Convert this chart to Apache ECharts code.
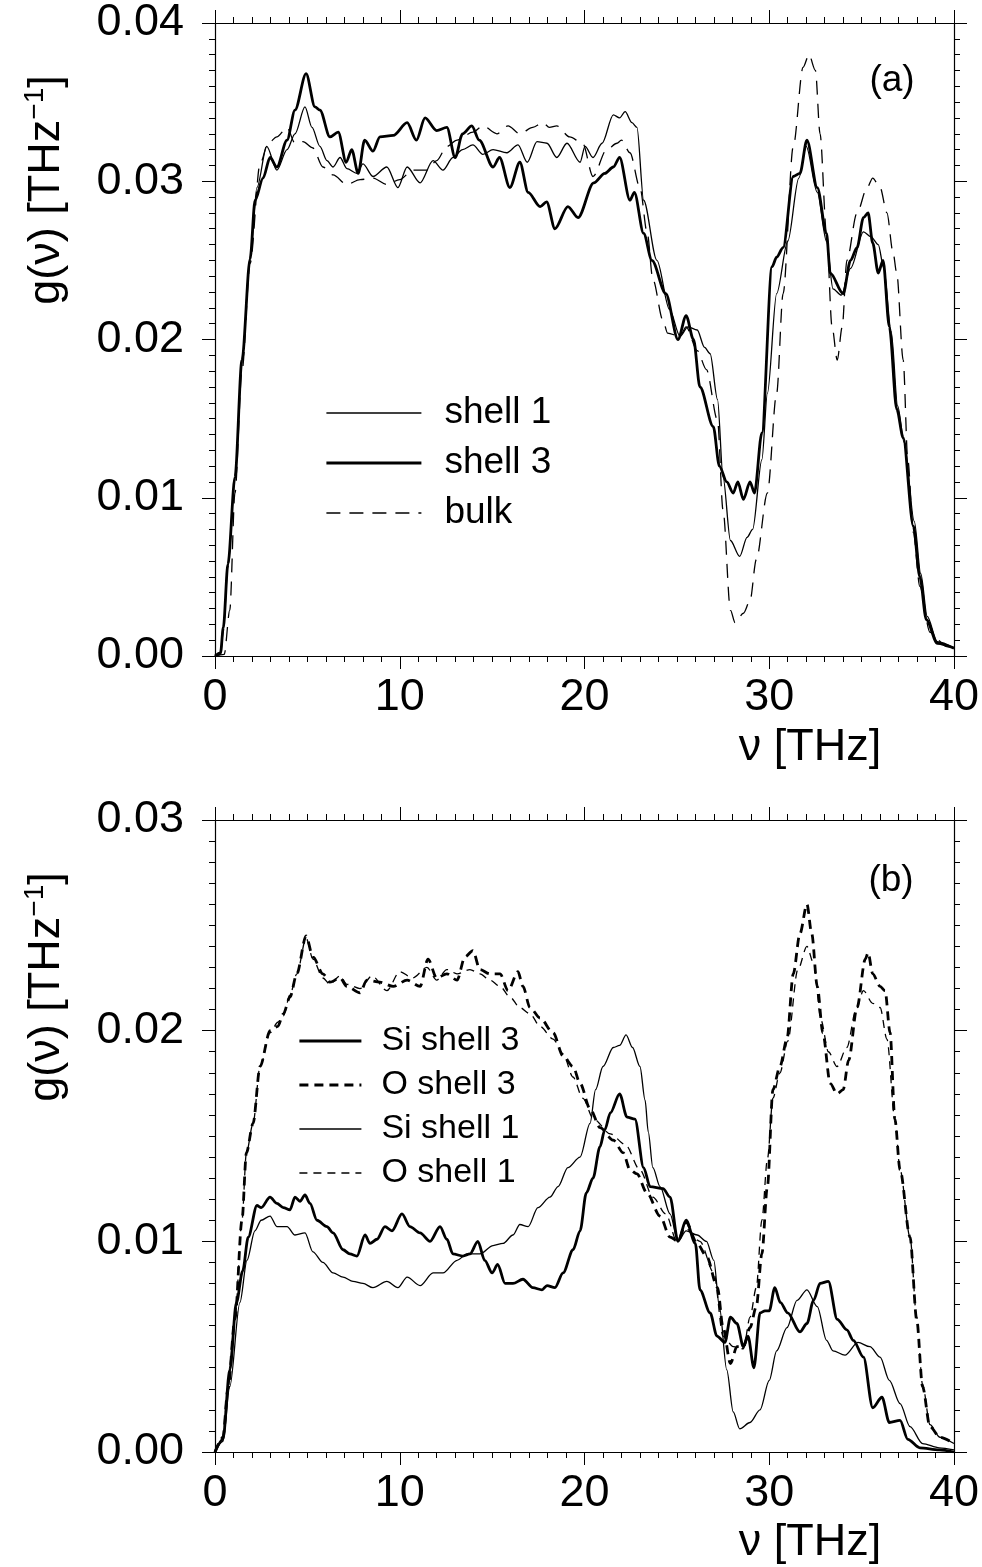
<!DOCTYPE html>
<html>
<head>
<meta charset="utf-8">
<script src="https://cdn.jsdelivr.net/npm/echarts@6.0.0/dist/echarts.min.js"></script>
<style>
  html, body { margin: 0; padding: 0; background: #ffffff; }
  #chart { width: 982px; height: 1567px; }
</style>
</head>
<body>
<div id="chart"></div>
<script>
// Phonon density of states g(nu), frequency nu in THz.
// Each curve is a list of [nu, g] samples.

// ---- panel (a): total DOS per shell vs. bulk ----
const shell1 = [
  [0,0],[0.3,0.0001],[0.45,0.0016],[0.7,0.0056],[1.08,0.0112],[1.46,0.0186],[1.9,0.0252],[2.27,0.0296],
  [2.8,0.0322],[3.35,0.0307],[3.9,0.032],[4.33,0.033],[4.87,0.0347],[5.25,0.0334],[5.68,0.0322],[6.06,0.0313],
  [6.39,0.0309],[6.77,0.0315],[7.14,0.0308],[7.68,0.0305],[8.01,0.0311],[8.55,0.0303],[9.3,0.0309],[9.9,0.0296],
  [10.4,0.0309],[11.1,0.0299],[11.8,0.0313],[12.34,0.0307],[12.88,0.0315],[13.4,0.032],[13.96,0.0323],[14.5,0.0317],
  [15.05,0.032],[15.8,0.0318],[16.4,0.0323],[16.9,0.0312],[17.43,0.0325],[17.97,0.0324],[18.5,0.0315],[19.05,0.0324],
  [19.76,0.0312],[20.03,0.0322],[20.46,0.0315],[20.95,0.0324],[21.56,0.0342],[21.9,0.034],[22.2,0.0344],[22.57,0.0337],
  [22.84,0.0334],[23.2,0.0288],[23.92,0.025],[24.6,0.0219],[25.17,0.0202],[25.6,0.0208],[26.1,0.0206],[26.5,0.0195],
  [26.8,0.0191],[27.2,0.0162],[27.5,0.0113],[27.9,0.0073],[28.4,0.0063],[28.8,0.0075],[29.1,0.008],[29.6,0.0124],
  [29.9,0.0166],[30.4,0.0229],[31.0,0.0262],[31.6,0.0302],[32.0,0.0322],[32.6,0.0293],[33.1,0.0262],[33.45,0.0232],
  [33.9,0.0228],[34.4,0.0245],[35.1,0.0268],[35.5,0.0265],[35.9,0.026],[36.2,0.0245],[36.6,0.0205],[36.95,0.0158],
  [37.3,0.0135],[37.85,0.0085],[38.2,0.0052],[38.55,0.0025],[39.1,0.0009],[40,0.0005]
];
const shell3 = [
  [0,0],[0.3,0.0002],[0.45,0.0018],[0.7,0.0058],[1.08,0.0113],[1.46,0.0187],[1.9,0.0251],[2.17,0.0288],
  [2.6,0.0302],[2.98,0.0315],[3.35,0.0309],[3.9,0.0326],[4.33,0.0345],[4.93,0.0368],[5.41,0.0347],[5.68,0.0345],
  [6.22,0.0328],[6.67,0.0331],[7.1,0.0312],[7.4,0.032],[7.75,0.0305],[8.1,0.0326],[8.55,0.0319],[8.93,0.0328],
  [9.65,0.0329],[10.4,0.0337],[10.9,0.0326],[11.37,0.034],[12.0,0.0332],[12.55,0.0334],[13.0,0.0315],[13.4,0.033],
  [13.9,0.0335],[14.3,0.0326],[15.05,0.0309],[15.4,0.0315],[15.96,0.0296],[16.5,0.0312],[16.95,0.0293],[17.6,0.0284],
  [17.95,0.0287],[18.4,0.027],[19.1,0.0284],[19.65,0.0277],[20.5,0.0299],[21.1,0.0305],[21.56,0.0309],[21.9,0.0315],
  [22.46,0.0288],[22.7,0.0293],[23.2,0.0267],[23.65,0.025],[24.4,0.0229],[25.06,0.02],[25.5,0.0215],[25.9,0.02],
  [26.25,0.017],[26.97,0.0145],[27.3,0.012],[27.7,0.011],[28.05,0.0103],[28.3,0.011],[28.6,0.0099],[28.96,0.011],
  [29.2,0.0103],[29.6,0.0141],[30.15,0.0246],[30.4,0.0252],[30.75,0.0258],[31.3,0.0303],[31.66,0.0305],[32.04,0.0326],
  [32.6,0.0296],[33.1,0.0267],[33.3,0.0242],[34.0,0.0229],[34.4,0.025],[34.75,0.0258],[35.1,0.0277],[35.35,0.028],
  [35.6,0.0261],[35.9,0.0242],[36.16,0.025],[36.5,0.0208],[36.9,0.0156],[37.25,0.0138],[37.8,0.0082],[38.15,0.005],
  [38.5,0.0023],[39.1,0.0008],[40,0.0005]
];
const bulk = [
  [0,0],[0.5,0.0001],[0.8,0.0029],[1.08,0.0103],[1.46,0.018],[1.9,0.0248],[2.44,0.0311],[2.87,0.0324],
  [3.35,0.0328],[3.9,0.0334],[4.33,0.0324],[4.76,0.0325],[5.3,0.0321],[5.84,0.0309],[6.39,0.0304],[7.14,0.0298],
  [7.85,0.0301],[8.55,0.0302],[9.3,0.0298],[10.0,0.0301],[10.7,0.0307],[11.47,0.0307],[12.0,0.0313],[12.55,0.0322],
  [13.1,0.0326],[13.96,0.0331],[14.5,0.0335],[15.26,0.033],[15.86,0.0335],[16.5,0.033],[17.2,0.0334],[17.75,0.0337],
  [18.1,0.0334],[18.5,0.0335],[19.2,0.0328],[19.9,0.0324],[20.46,0.0303],[21.2,0.032],[21.76,0.0324],[22.0,0.0326],
  [22.46,0.0318],[23.0,0.0296],[23.4,0.0267],[23.7,0.0238],[24.25,0.0212],[24.5,0.0204],[25.17,0.0202],[25.5,0.0208],
  [26.1,0.0193],[26.6,0.0181],[27.2,0.0149],[27.5,0.0092],[27.9,0.0029],[28.15,0.0021],[28.6,0.0027],[28.96,0.0035],
  [29.3,0.0061],[29.9,0.0103],[30.4,0.0166],[30.75,0.0229],[31.3,0.0322],[31.83,0.0372],[32.15,0.038],[32.5,0.037],
  [32.75,0.033],[33.1,0.0267],[33.4,0.0208],[33.68,0.0187],[33.95,0.0208],[34.2,0.025],[34.75,0.028],[35.3,0.0296],
  [35.6,0.0302],[36.0,0.0296],[36.37,0.028],[36.7,0.0255],[36.9,0.0242],[37.25,0.0187],[37.5,0.0124],[37.8,0.0078],
  [38.15,0.0044],[38.7,0.0015],[39.6,0.0006],[40,0.0005]
];

// ---- panel (b): partial DOS of Si and O atoms ----
const siShell3 = [
  [0,0],[0.43,0.0006],[0.8,0.0039],[1.16,0.0071],[1.5,0.0086],[1.8,0.0102],[2.27,0.0117],[2.5,0.0116],
  [2.98,0.0121],[3.35,0.0118],[3.7,0.0116],[4.06,0.0115],[4.33,0.0121],[4.6,0.0119],[4.87,0.0122],[5.14,0.0118],
  [5.52,0.011],[6.06,0.0107],[6.39,0.0104],[6.93,0.0096],[7.3,0.0094],[7.68,0.0093],[8.12,0.0103],[8.39,0.0099],
  [8.77,0.0101],[9.2,0.0107],[9.58,0.0105],[10.12,0.0113],[10.55,0.0107],[11.1,0.0104],[11.64,0.01],[12.18,0.0107],
  [12.55,0.0101],[12.88,0.0094],[13.42,0.0093],[13.8,0.0094],[14.23,0.01],[14.6,0.0091],[15.0,0.0085],[15.3,0.0089],
  [15.7,0.008],[16.13,0.008],[16.67,0.0082],[17.2,0.0078],[17.7,0.0077],[17.97,0.0079],[18.4,0.0078],[18.84,0.0085],
  [19.38,0.0096],[19.76,0.0105],[20.1,0.0123],[20.46,0.013],[20.84,0.0145],[21.1,0.0153],[21.4,0.0161],[21.9,0.017],
  [22.3,0.0159],[22.73,0.0158],[23.2,0.0135],[23.55,0.0126],[24.25,0.0125],[24.63,0.0121],[25.06,0.01],[25.5,0.011],
  [26.0,0.0099],[26.25,0.0077],[26.8,0.0066],[27.17,0.0055],[27.6,0.0052],[27.9,0.0064],[28.25,0.0061],[28.6,0.005],
  [28.85,0.0055],[29.17,0.004],[29.5,0.0066],[29.77,0.0067],[30.0,0.0067],[30.3,0.0078],[30.6,0.0071],[31.0,0.0066],
  [31.66,0.0057],[32.04,0.0061],[32.4,0.0072],[32.75,0.008],[33.2,0.0081],[33.68,0.0063],[34.2,0.0058],[34.55,0.0053],
  [35.1,0.0045],[35.6,0.0021],[36.1,0.0026],[36.5,0.0014],[37.08,0.0015],[37.5,0.0006],[38.15,0.0002],[39.2,0.0001],
  [40,0]
];
const oShell3 = [
  [0,0],[0.43,0.0007],[0.7,0.003],[1.08,0.0063],[1.46,0.011],[1.7,0.0142],[2.06,0.0156],[2.44,0.0183],
  [2.98,0.02],[3.4,0.0202],[3.7,0.0208],[4.06,0.0216],[4.43,0.0227],[4.93,0.0245],[5.3,0.0235],[5.84,0.0227],
  [6.22,0.0223],[6.77,0.0225],[7.14,0.0221],[7.85,0.0218],[8.22,0.0224],[8.93,0.0223],[9.65,0.0221],[10.4,0.0224],
  [11.1,0.0221],[11.53,0.0234],[12.0,0.0225],[12.55,0.0227],[13.1,0.0224],[13.53,0.0235],[13.96,0.0238],[14.34,0.0229],
  [14.88,0.0227],[15.43,0.0227],[15.86,0.0219],[16.4,0.0228],[16.67,0.0221],[17.05,0.0211],[17.6,0.0206],[18.3,0.0199],
  [18.84,0.0188],[19.38,0.0183],[19.76,0.0175],[20.3,0.0163],[20.84,0.0154],[21.56,0.0148],[22.1,0.0142],[22.46,0.0134],
  [22.84,0.0132],[23.38,0.0123],[24.09,0.0112],[24.63,0.0102],[25.06,0.01],[25.5,0.0109],[26.1,0.0099],[26.6,0.0093],
  [27.2,0.0078],[27.5,0.0059],[27.9,0.0042],[28.25,0.005],[28.6,0.005],[28.96,0.0059],[29.3,0.0069],[29.6,0.0094],
  [29.9,0.0126],[30.2,0.0172],[30.58,0.0183],[30.96,0.0196],[31.3,0.0227],[31.66,0.0246],[32.04,0.026],[32.3,0.0246],
  [32.6,0.0221],[32.9,0.0199],[33.3,0.0175],[33.67,0.017],[34.0,0.0172],[34.3,0.0186],[34.75,0.0211],[35.2,0.0234],
  [35.35,0.0237],[35.6,0.0227],[36.0,0.0221],[36.27,0.0219],[36.54,0.0199],[36.8,0.0158],[37.08,0.0134],[37.62,0.0102],
  [37.98,0.0063],[38.3,0.0031],[38.7,0.0012],[39.24,0.0007],[40,0.0004]
];
const siShell1 = [
  [0,0],[0.43,0.0005],[0.8,0.0031],[1.35,0.0071],[1.73,0.0091],[2.16,0.0105],[2.5,0.011],[2.98,0.0112],
  [3.35,0.0107],[3.9,0.0107],[4.33,0.0103],[4.87,0.0104],[5.3,0.0095],[5.84,0.009],[6.39,0.0085],[6.93,0.0083],
  [7.47,0.0081],[8.01,0.008],[8.55,0.0078],[9.3,0.0081],[9.9,0.0078],[10.4,0.0083],[11.1,0.0079],[11.8,0.0085],
  [12.34,0.0085],[13.1,0.0091],[13.64,0.0094],[14.34,0.0094],[15.05,0.0098],[15.59,0.0099],[16.13,0.0103],[16.5,0.0108],
  [16.95,0.0107],[17.48,0.0116],[18.13,0.0121],[18.57,0.0126],[19.1,0.0135],[19.76,0.014],[20.3,0.0156],[20.6,0.0172],
  [21.0,0.0183],[21.56,0.0192],[21.9,0.0193],[22.25,0.0198],[22.6,0.0192],[23.0,0.0183],[23.28,0.0167],[23.45,0.0152],
  [23.7,0.0135],[24.09,0.0126],[24.63,0.0113],[25.06,0.01],[25.5,0.0105],[26.1,0.0103],[26.6,0.01],[27.0,0.0091],
  [27.3,0.0069],[27.7,0.0039],[28.05,0.0019],[28.4,0.0011],[28.96,0.0014],[29.5,0.002],[30.0,0.0034],[30.4,0.0048],
  [30.96,0.0059],[31.5,0.0072],[32.04,0.0077],[32.6,0.0069],[33.1,0.0053],[33.45,0.0048],[34.1,0.0046],[34.8,0.0052],
  [35.45,0.005],[36.0,0.0045],[36.5,0.0034],[37.08,0.0023],[37.62,0.0012],[38.3,0.0004],[39.2,0.0002],[40,0.0001]
];
const oShell1 = [
  [0,0],[0.43,0.0007],[0.7,0.003],[1.08,0.0063],[1.46,0.011],[1.7,0.0142],[2.06,0.0156],[2.44,0.0183],
  [2.98,0.0199],[3.4,0.0204],[3.7,0.0207],[4.06,0.0217],[4.43,0.0227],[4.93,0.0244],[5.3,0.0234],[5.84,0.0225],
  [6.22,0.0222],[6.77,0.0226],[7.14,0.0222],[7.85,0.022],[8.5,0.0226],[9.3,0.0219],[10.0,0.0228],[10.7,0.0225],
  [11.47,0.023],[12.0,0.0224],[12.55,0.0229],[13.1,0.0227],[13.8,0.0229],[14.34,0.0227],[14.88,0.0224],[15.43,0.0221],
  [15.96,0.0216],[16.5,0.0211],[17.05,0.0208],[17.6,0.0202],[18.3,0.0196],[18.84,0.0189],[19.38,0.0178],[19.9,0.0168],
  [20.5,0.0158],[21.4,0.0151],[22.2,0.0146],[23.0,0.0134],[23.7,0.0121],[24.4,0.0113],[25.0,0.01],[25.5,0.0106],
  [26.25,0.01],[27.0,0.0085],[27.5,0.0055],[28.05,0.005],[28.6,0.0049],[28.96,0.0064],[29.3,0.0078],[29.6,0.011],
  [29.9,0.0139],[30.2,0.0168],[30.58,0.018],[31.0,0.0195],[31.55,0.0229],[32.04,0.024],[32.4,0.0232],[32.8,0.0205],
  [33.2,0.019],[33.67,0.0183],[34.2,0.0192],[34.7,0.021],[35.1,0.0219],[35.6,0.0213],[36.0,0.0211],[36.37,0.0196],
  [36.8,0.0158],[37.08,0.0134],[37.62,0.0102],[37.98,0.0064],[38.3,0.0032],[38.7,0.0013],[39.24,0.0007],[40,0.0004]
];

// axis ranges
const nuRange = [0, 40, 10];          // min, max, major step
const gRangeA = [0, 0.04, 0.01];
const gRangeB = [0, 0.03, 0.01];
const panelTags = ['(a)', '(b)'];

const FONT = '"Liberation Sans", Arial, Helvetica, sans-serif';
const INK = '#000';
const THIN = 1.3, THICK = 2.8;

const chart = echarts.init(document.getElementById('chart'), null, { renderer: 'canvas' });

function xAxisPair(gridIndex) {
  const common = {
    type: 'value', gridIndex, min: nuRange[0], max: nuRange[1], interval: nuRange[2],
    splitLine: { show: false },
    axisLine: { show: true, onZero: false, lineStyle: { color: INK, width: 1.2 } },
    axisTick: { show: true, inside: false, length: 13, lineStyle: { color: INK, width: 1 } },
    minorTick: { show: true, splitNumber: 10, length: 6, lineStyle: { color: INK, width: 1 } },
    minorSplitLine: { show: false }
  };
  return [
    Object.assign({}, common, {
      position: 'bottom',
      axisLabel: { show: true, margin: 19, fontSize: 45, fontFamily: FONT, color: INK,
                   showMinLabel: true, showMaxLabel: true, hideOverlap: false }
    }),
    Object.assign({}, common, { position: 'top', axisLabel: { show: false } })
  ];
}
function yAxisPair(gridIndex, range) {
  const common = {
    type: 'value', gridIndex, min: range[0], max: range[1], interval: range[2],
    splitLine: { show: false },
    axisLine: { show: true, onZero: false, lineStyle: { color: INK, width: 1.2 } },
    axisTick: { show: true, inside: false, length: 13, lineStyle: { color: INK, width: 1 } },
    minorTick: { show: true, splitNumber: 10, length: 6, lineStyle: { color: INK, width: 1 } },
    minorSplitLine: { show: false }
  };
  return [
    Object.assign({}, common, {
      position: 'left',
      axisLabel: { show: true, margin: 31, fontSize: 45, fontFamily: FONT, color: INK,
                   showMinLabel: true, showMaxLabel: true, hideOverlap: false,
                   formatter: v => v.toFixed(2) }
    }),
    Object.assign({}, common, { position: 'right', axisLabel: { show: false } })
  ];
}

function lineSeries(name, data, grid, width, dash) {
  return {
    name, type: 'line', data,
    xAxisIndex: grid * 2, yAxisIndex: grid * 2,
    showSymbol: false, symbol: 'none', smooth: 0.3, smoothMonotone: 'x', clip: true,
    itemStyle: { color: INK },
    lineStyle: { color: INK, width, type: dash || 'solid', join: 'round', cap: 'butt' },
    emphasis: { disabled: true }, silent: true, z: width > 2 ? 3 : 2
  };
}

const yNameRich = (size) => ({
  sup: { fontSize: Math.round(size * 0.62), fontFamily: FONT, fill: INK, verticalAlign: 'top', padding: [0, 0, Math.round(size * 0.5), 0] },
  base: { fontSize: size, fontFamily: FONT, fill: INK }
});
function yName(cx, cy) {
  return {
    type: 'text', x: cx, y: cy, rotation: Math.PI / 2,
    style: {
      text: '{base|g(ν) [THz}{sup|−1}{base|]}',
      rich: yNameRich(45), font: '45px ' + FONT, fill: INK,
      align: 'center', verticalAlign: 'middle'
    }
  };
}
function plainText(text, x, y, size, align) {
  return {
    type: 'text', x, y,
    style: { text, font: size + 'px ' + FONT, fill: INK, align: align || 'center', verticalAlign: 'middle' }
  };
}

const legendText = (size, lh, padLeft) => ({
  fontSize: size, lineHeight: lh, fontFamily: FONT, color: INK, padding: [0, 0, 0, padLeft]
});

const option = {
  animation: false,
  backgroundColor: '#ffffff',
  grid: [
    { left: 215, top: 23, width: 739, height: 633, outerBoundsMode: 'none', containLabel: false },
    { left: 215, top: 820, width: 739, height: 632, outerBoundsMode: 'none', containLabel: false }
  ],
  xAxis: [...xAxisPair(0), ...xAxisPair(1)],
  yAxis: [...yAxisPair(0, gRangeA), ...yAxisPair(1, gRangeB)],
  legend: [
    {
      orient: 'vertical', left: 325, top: 393, padding: 0, itemWidth: 95, itemHeight: 14, itemGap: 10,
      selectedMode: false, textStyle: legendText(37, 40, 18),
      itemStyle: { opacity: 0, borderWidth: 0 },
      data: [
        { name: 'shell 1', lineStyle: { width: THIN } },
        { name: 'shell 3', lineStyle: { width: THICK } },
        { name: 'bulk', lineStyle: { width: THIN } }
      ]
    },
    {
      orient: 'vertical', left: 298, top: 1022, padding: 0, itemWidth: 62, itemHeight: 14, itemGap: 6,
      selectedMode: false, textStyle: legendText(34, 38, 15),
      itemStyle: { opacity: 0, borderWidth: 0 },
      data: [
        { name: 'Si shell 3', lineStyle: { width: THICK } },
        { name: 'O shell 3', lineStyle: { width: THICK } },
        { name: 'Si shell 1', lineStyle: { width: THIN } },
        { name: 'O shell 1', lineStyle: { width: THIN } }
      ]
    }
  ],
  series: [
    lineSeries('shell 1', shell1, 0, THIN),
    lineSeries('shell 3', shell3, 0, THICK),
    lineSeries('bulk', bulk, 0, THIN, [14, 9]),
    lineSeries('Si shell 3', siShell3, 1, THICK),
    lineSeries('O shell 3', oShell3, 1, THICK, [9, 6]),
    lineSeries('Si shell 1', siShell1, 1, THIN),
    lineSeries('O shell 1', oShell1, 1, THIN, [8, 6])
  ],
  graphic: [
    yName(47, 190),
    yName(47, 987),
    plainText('ν [THz]', 810, 748, 45),
    plainText('ν [THz]', 810, 1543, 45),
    plainText(panelTags[0], 892, 81, 37),
    plainText(panelTags[1], 891, 881, 37)
  ]
};

chart.setOption(option);
</script>
</body>
</html>
